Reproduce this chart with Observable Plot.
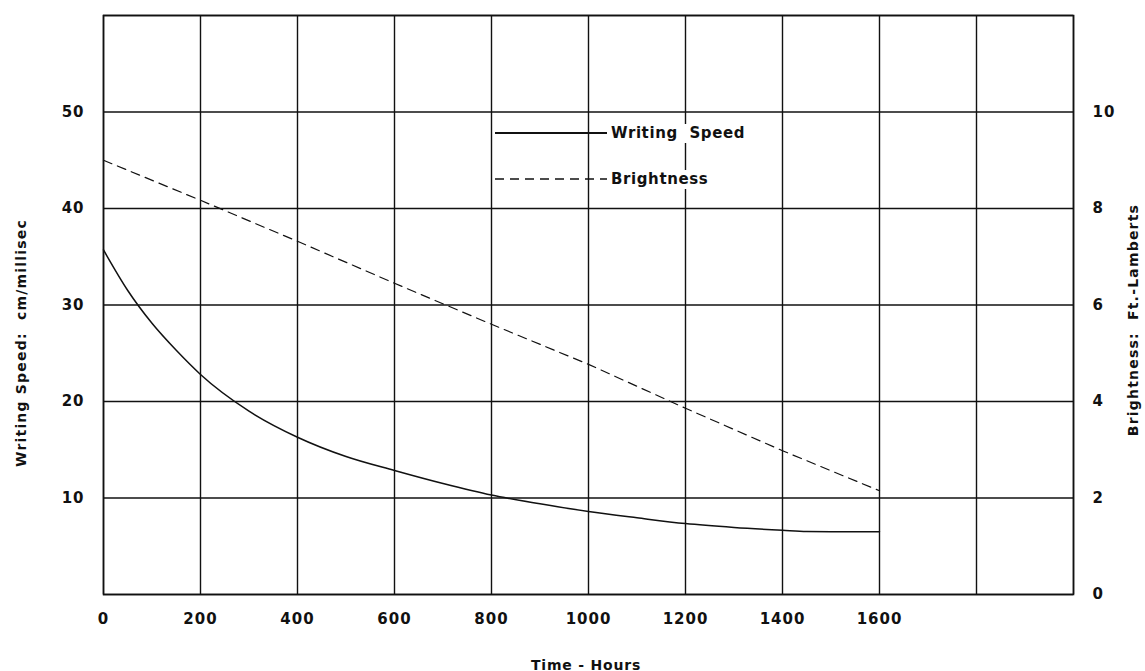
<!DOCTYPE html>
<html>
<head>
<meta charset="utf-8">
<script src="https://cdn.jsdelivr.net/npm/d3@7"></script>
<script src="https://cdn.jsdelivr.net/npm/@observablehq/plot@0.6"></script>
<style>
  html, body { margin: 0; padding: 0; background: white; }
  #wrap { position: relative; width: 1145px; height: 671px; }
  #wrap svg text { letter-spacing: 1px; }
  .lab { position: absolute; font-family: "DejaVu Sans", sans-serif; font-weight: bold; color: #111; white-space: pre; line-height: 1; }
  .legend .row { position: absolute; display: flex; align-items: center; white-space: pre; }
  .legend .lbl { background: white; padding: 2px 6px 2px 4px; letter-spacing: 0.6px; font-size: 15px; }
</style>
</head>
<body>
<div id="wrap"></div>
<script>
// ---- data ----
const speedHours = [0, 50, 100, 150, 200, 300, 400, 500, 600, 700, 800, 900, 1000, 1100, 1200, 1300, 1400, 1450, 1500, 1600];
const writingSpeed = [35.7, 31.5, 28.1, 25.3, 22.8, 19.0, 16.3, 14.3, 12.85, 11.5, 10.3, 9.4, 8.6, 7.95, 7.35, 6.95, 6.65, 6.52, 6.5, 6.5];
const brightHours = [0, 200, 400, 600, 800, 1000, 1200, 1400, 1600];
const brightness = [9.0, 8.17, 7.32, 6.45, 5.6, 4.77, 3.86, 2.98, 2.15];
const xTicks = [0, 200, 400, 600, 800, 1000, 1200, 1400, 1600];
const xGrid = [0, 200, 400, 600, 800, 1000, 1200, 1400, 1600, 1800, 2000];
const speedTicks = [10, 20, 30, 40, 50];
const speedGrid = [0, 10, 20, 30, 40, 50, 60];
const brightTicks = [0, 2, 4, 6, 8, 10];
const seriesNames = ["Writing Speed", "Brightness"];
const xLabel = "Time - Hours";
const yLabelLeft = "Writing Speed:  cm/millisec";
const yLabelRight = "Brightness:  Ft.-Lamberts";
const ratio = 5; // speed units per brightness unit (right axis 10 ↔ left 50)

const speedData = speedHours.map((t, i) => ({t, v: writingSpeed[i]}));
const brightData = brightHours.map((t, i) => ({t, b: brightness[i]}));

const ink = "#111";
const font = "'DejaVu Sans', sans-serif";

const chart = Plot.plot({
  width: 1145, height: 671,
  marginLeft: 103, marginRight: 72, marginTop: 15, marginBottom: 77,
  x: {domain: [0, 2000]},
  y: {domain: [0, 60]},
  style: {fontFamily: font, fontSize: "15px", fontWeight: "bold", color: ink, background: "white", overflow: "visible"},
  marks: [
    Plot.ruleX(xGrid, {stroke: ink, strokeWidth: 1.4}),
    Plot.ruleY(speedGrid, {stroke: ink, strokeWidth: 1.4}),
    Plot.frame({stroke: ink, strokeWidth: 1.6}),
    Plot.line(speedData, {x: "t", y: "v", curve: "monotone-x", stroke: ink, strokeWidth: 1.5}),
    Plot.line(brightData, {x: "t", y: d => d.b * ratio, stroke: ink, strokeWidth: 1.2, strokeDasharray: "9,6"}),
    Plot.axisX(xTicks, {tickSize: 0, tickPadding: 19, tickFormat: d => String(d), label: null}),
    Plot.axisY(speedTicks, {anchor: "left", tickSize: 0, tickPadding: 19, label: null}),
    Plot.axisY(brightTicks.map(b => b * ratio), {anchor: "right", tickSize: 0, tickPadding: 19, tickFormat: d => String(d / ratio), label: null})
  ]
});
const wrap = document.getElementById("wrap");
wrap.appendChild(chart);

// axis titles (HTML overlay, centred on the given points)
function addLabel(text, cx, cy, rotate, size, spacing) {
  const el = document.createElement("div");
  el.className = "lab";
  el.textContent = text;
  el.style.fontSize = size + "px";
  el.style.letterSpacing = spacing + "px";
  el.style.left = cx + "px";
  el.style.top = cy + "px";
  el.style.transform = `translate(-50%, -50%) rotate(${rotate}deg)`;
  wrap.appendChild(el);
}
addLabel(xLabel, 586, 665, 0, 14, 0.8);
addLabel(yLabelLeft, 21, 343, -90, 14, 1.2);
addLabel(yLabelRight, 1133, 320, -90, 14, 1.2);

// legend overlay
const legend = document.createElement("div");
legend.className = "legend lab";
legend.style.left = "0px"; legend.style.top = "0px";
const rows = [
  {name: seriesNames[0], dash: null, top: 133},
  {name: seriesNames[1], dash: "9,6", top: 179}
];
rows.forEach(r => {
  const row = document.createElement("div");
  row.className = "row";
  row.style.left = "495px";
  row.style.top = (r.top - 11) + "px";
  row.style.height = "22px";
  row.innerHTML = `<svg width="112" height="22" style="display:block"><line x1="0" x2="112" y1="11" y2="11" stroke="${ink}" stroke-width="${r.dash ? 1.4 : 1.8}" ${r.dash ? `stroke-dasharray="${r.dash}"` : ""}/></svg><span class="lbl">${r.name.replace(" ", "  ")}</span>`;
  legend.appendChild(row);
});
wrap.appendChild(legend);
</script>
</body>
</html>
